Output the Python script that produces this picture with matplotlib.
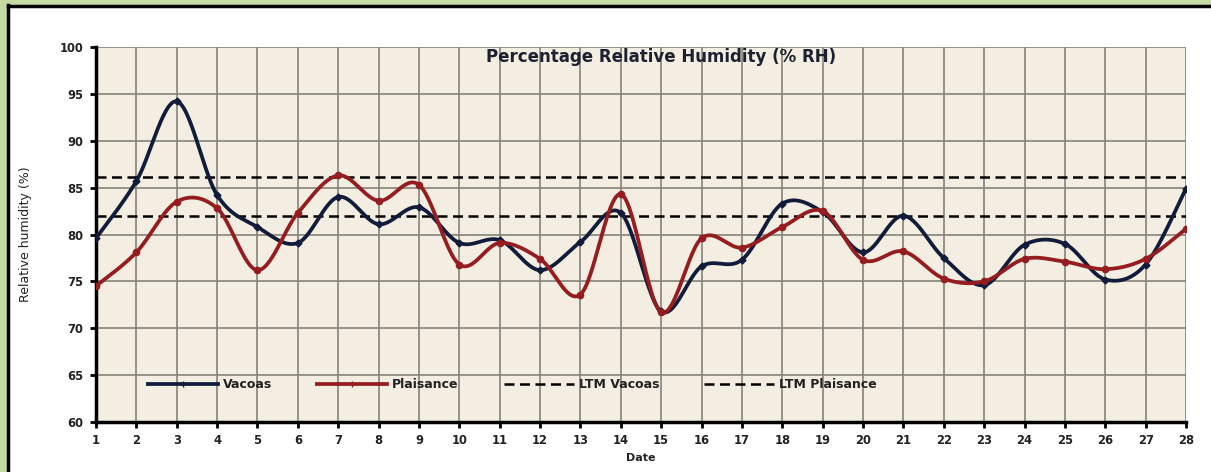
import numpy as np
import matplotlib.pyplot as plt
from matplotlib.patches import Rectangle
from matplotlib.lines import Line2D

# data
dates = list(range(1, 29))
vacoas = [79.6, 85.7, 94.2, 84.2, 80.8, 79.1, 84.0, 81.1, 82.9, 79.1,
          79.4, 76.2, 79.2, 82.3, 71.8, 76.6, 77.3, 83.3, 82.4, 78.1,
          82.0, 77.5, 74.6, 78.9, 79.0, 75.2, 76.8, 84.9]
plaisance = [74.5, 78.1, 83.5, 82.8, 76.2, 82.3, 86.3, 83.6, 85.3, 76.8,
             79.1, 77.4, 73.6, 84.3, 71.7, 79.6, 78.6, 80.8, 82.5, 77.3,
             78.2, 75.3, 75.0, 77.4, 77.1, 76.3, 77.4, 80.6]
ltm_vacoas = 86.1
ltm_plaisance = 82.0


def smooth(x, y, n=30):
    # Excel-like smoothed line (Catmull-Rom bezier)
    x = np.asarray(x, float)
    y = np.asarray(y, float)
    px = np.concatenate([[x[0]], x, [x[-1]]])
    py = np.concatenate([[y[0]], y, [y[-1]]])
    t = np.linspace(0, 1, n)
    xs, ys = [], []
    for i in range(1, len(px) - 2):
        p0 = np.array([px[i], py[i]])
        p3 = np.array([px[i + 1], py[i + 1]])
        c1 = p0 + (p3 - np.array([px[i - 1], py[i - 1]])) / 6
        c2 = p3 - (np.array([px[i + 2], py[i + 2]]) - p0) / 6
        b = ((1 - t) ** 3)[:, None] * p0 + (3 * (1 - t) ** 2 * t)[:, None] * c1 \
            + (3 * (1 - t) * t ** 2)[:, None] * c2 + (t ** 3)[:, None] * p3
        xs.append(b[:, 0])
        ys.append(b[:, 1])
    return np.concatenate(xs), np.concatenate(ys)


navy = '#101c3a'
red = '#951c1f'

fig = plt.figure(figsize=(12.11, 4.72), dpi=100)
fig.patch.set_facecolor('white')

# frame border (green strip + black line)
fig.patches.append(Rectangle((0, 0), 7 / 1211, 1, transform=fig.transFigure,
                             facecolor='#c5d9a3', edgecolor='none', zorder=0))
fig.patches.append(Rectangle((0, 1 - 5 / 472), 1, 5 / 472, transform=fig.transFigure,
                             facecolor='#c5d9a3', edgecolor='none', zorder=0))
fig.lines.append(Line2D([8 / 1211, 8 / 1211], [0, 1 - 5 / 472], transform=fig.transFigure,
                        color='black', lw=2.5))
fig.lines.append(Line2D([8 / 1211, 1], [1 - 6 / 472, 1 - 6 / 472], transform=fig.transFigure,
                        color='black', lw=2.5))

ax = fig.add_axes([96 / 1211, 1 - 422 / 472, 1090 / 1211, 375 / 472])
ax.set_facecolor('#f4ede2')

ax.set_xlim(1, 28)
ax.set_ylim(60, 100)
ax.set_xticks(dates)
ax.set_yticks(range(60, 101, 5))
ax.grid(True, color='#85837b', lw=1.2)
ax.set_axisbelow(True)

for s in ['top', 'right']:
    ax.spines[s].set_visible(False)
for s in ['left', 'bottom']:
    ax.spines[s].set_linewidth(2.5)
    ax.spines[s].set_color('black')
ax.tick_params(length=4, width=2, labelsize=8.3, pad=5)
for lbl in ax.get_xticklabels() + ax.get_yticklabels():
    lbl.set_fontweight('bold')
    lbl.set_color('#222222')

xv, yv = smooth(dates, vacoas)
xp, yp = smooth(dates, plaisance)
ax.plot(xv, yv, color=navy, lw=2.7, zorder=3)
ax.plot(dates, vacoas, linestyle='none', marker='D', ms=3.5, color=navy, zorder=4)
ax.plot(xp, yp, color=red, lw=2.7, zorder=3)
ax.plot(dates, plaisance, linestyle='none', marker='o', ms=4.5, color=red, zorder=4)
ax.axhline(ltm_vacoas, color='black', lw=1.8, ls=(0, (4, 2.2)), zorder=2)
ax.axhline(ltm_plaisance, color='black', lw=1.8, ls=(0, (4, 2.2)), zorder=2)

handles = [
    Line2D([], [], color=navy, lw=2.7, marker='+', ms=4, mew=1),
    Line2D([], [], color=red, lw=2.7, marker='+', ms=4, mew=1),
    Line2D([], [], color='black', lw=1.8, ls=(0, (4, 2.2))),
    Line2D([], [], color='black', lw=1.8, ls=(0, (4, 2.2))),
]
labels = ['Vacoas', 'Plaisance', 'LTM Vacoas', 'LTM Plaisance']
leg = ax.legend(handles, labels, loc='center left', bbox_to_anchor=(0.042, 0.099),
                ncol=4, frameon=False, handlelength=5.6, handletextpad=0.4,
                columnspacing=3.6, borderpad=0, prop={'size': 9, 'weight': 'bold'})
for t in leg.get_texts():
    t.set_color('#222222')

ax.text(0.518, 0.973, 'Percentage Relative Humidity (% RH)', transform=ax.transAxes,
        ha='center', va='center', fontsize=12, fontweight='bold', color='#1c2030')
ax.set_xlabel('Date', fontsize=8, fontweight='bold', color='#222222', labelpad=4)
ax.set_ylabel('Relative humidity (%)', fontsize=9, family=['Liberation Sans Narrow', 'DejaVu Sans'],
              color='#222222', labelpad=20)

plt.savefig('out.png', dpi=100)
